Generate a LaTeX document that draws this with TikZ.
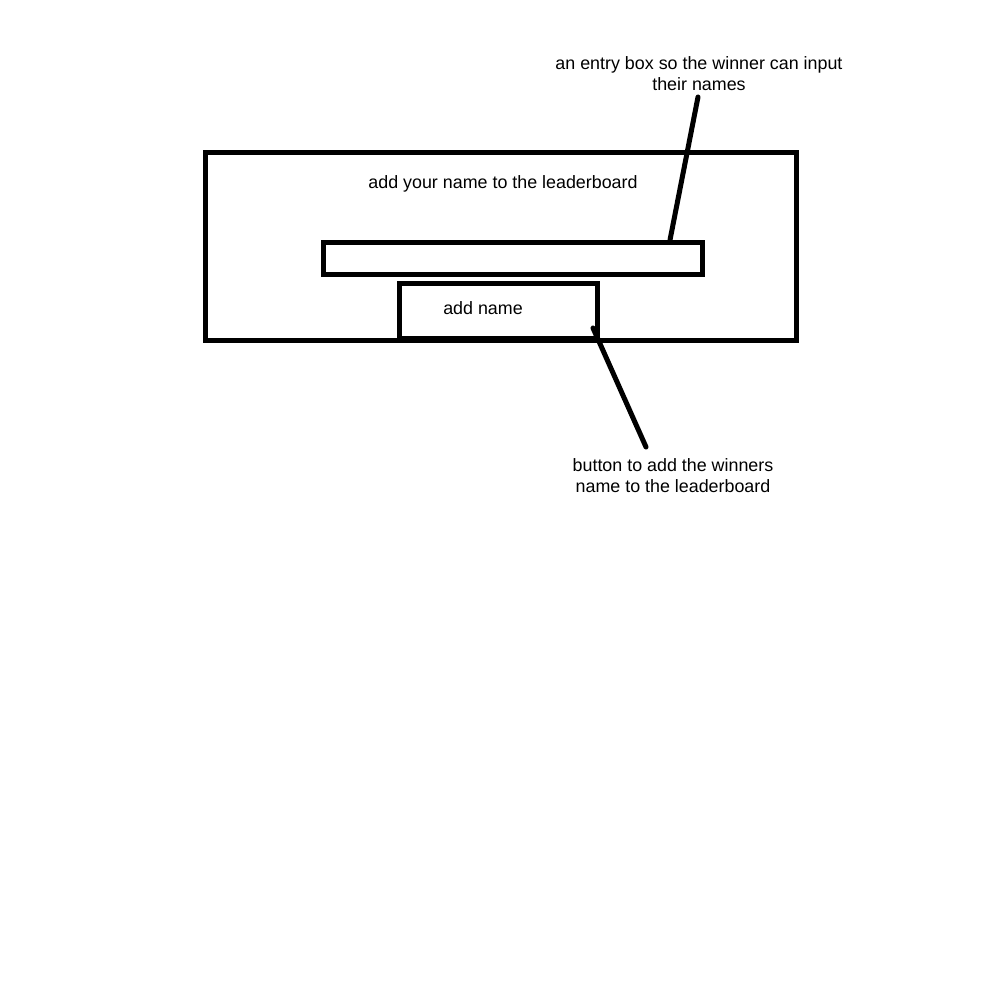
\documentclass[tikz,border=0pt]{standalone}
\usepackage{fontspec}
\setmainfont{Liberation Sans}
\begin{document}
\begin{tikzpicture}[x=0.75pt,y=-0.75pt,
  box/.style={draw=black,line width=3.75pt,rectangle,inner sep=0pt,outer sep=0pt,anchor=north west},
  lbl/.style={font=\fontsize{13.4pt}{15.75pt}\selectfont,align=center,inner sep=0pt,text=black},
  conn/.style={draw=black,line width=3.75pt,line cap=round}]
\useasboundingbox[fill=white] (0,0) rectangle (1000,1000);
\node[box,minimum width=591*0.75pt,minimum height=188*0.75pt] (outer) at (205,152) {};
\node[box,minimum width=379*0.75pt,minimum height=32*0.75pt] (entry) at (323,242) {};
\node[box,fill=white,minimum width=198*0.75pt,minimum height=55*0.75pt] (button) at (399,283) {};
\node[lbl] (title) at (503,184) {add your name to the leaderboard};
\node[lbl] (btext) at (483,308) {add name};
\node[lbl] (topnote) at (699,73.5) {an entry box so the winner can input\\their names};
\node[lbl] (botnote) at (673,475.5) {button to add the winners\\name to the leaderboard};
\coordinate (t1) at (698,97);
\coordinate (t2) at (670,240);
\coordinate (b1) at (593,328);
\coordinate (b2) at (646,447);
\draw[conn] (t1) -- (t2);
\draw[conn] (b1) -- (b2);
\end{tikzpicture}
\end{document}
